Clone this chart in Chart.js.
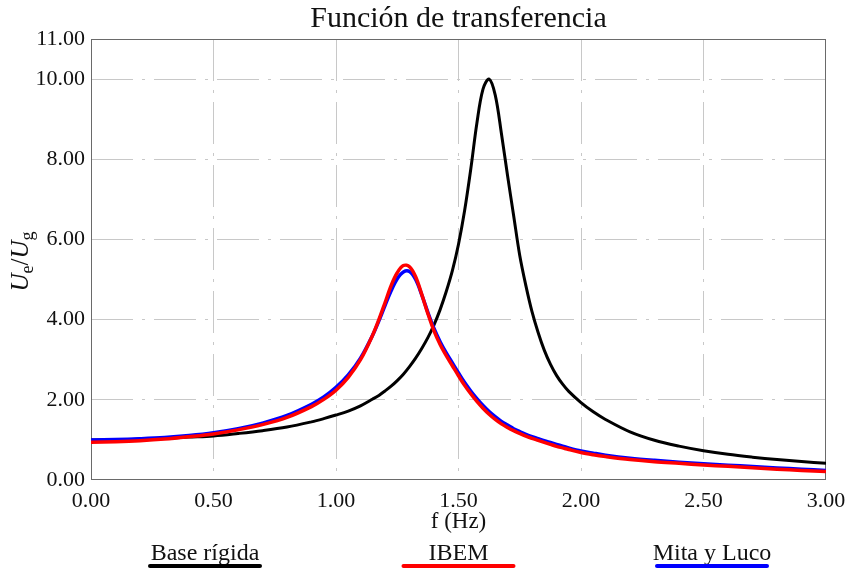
<!DOCTYPE html>
<html>
<head>
<meta charset="utf-8">
<script src="https://cdn.jsdelivr.net/npm/chart.js@4.4.1/dist/chart.umd.min.js"></script>
<style>
  html, body { margin: 0; padding: 0; background: #fff; }
  #chart { display: block; }
</style>
</head>
<body>
<canvas id="chart" width="847" height="572"></canvas>
<script>
// values
const freqs = [0, 0.1, 0.2, 0.3, 0.4, 0.5, 0.6, 0.7, 0.8, 0.9, 0.95, 1.0, 1.05, 1.1, 1.15, 1.175, 1.2, 1.225, 1.25, 1.275,
  1.3, 1.325, 1.35, 1.375, 1.4, 1.425, 1.45, 1.475, 1.5, 1.525, 1.55, 1.575, 1.6, 1.625, 1.65, 1.675, 1.7, 1.725,
  1.75, 1.775, 1.8, 1.825, 1.85, 1.875, 1.9, 1.925, 1.95, 2.0, 2.05, 2.1, 2.2, 2.3, 2.4, 2.5, 2.6, 2.7, 2.8, 2.9, 3.0];

const baseRigida = [1.00, 1.00, 1.02, 1.04, 1.07, 1.10, 1.16, 1.23, 1.32, 1.45, 1.53, 1.62, 1.72, 1.85, 2.02, 2.11, 2.22, 2.34, 2.48, 2.64,
  2.83, 3.04, 3.28, 3.55, 3.87, 4.25, 4.70, 5.22, 5.88, 6.72, 7.75, 8.90, 9.75, 10.00, 9.60, 8.65, 7.60, 6.60,
  5.60, 4.85, 4.20, 3.68, 3.24, 2.89, 2.61, 2.39, 2.21, 1.93, 1.70, 1.51, 1.20, 0.99, 0.845, 0.73, 0.64, 0.57, 0.51, 0.46, 0.42];

const ibem = [0.94, 0.955, 0.98, 1.02, 1.08, 1.15, 1.25, 1.38, 1.56, 1.83, 2.01, 2.24, 2.56, 3.00, 3.62, 4.00, 4.42, 4.85, 5.17, 5.35,
  5.32, 5.07, 4.63, 4.15, 3.72, 3.38, 3.10, 2.85, 2.60, 2.36, 2.15, 1.96, 1.79, 1.64, 1.51, 1.40, 1.31, 1.23,
  1.16, 1.095, 1.04, 0.99, 0.94, 0.89, 0.84, 0.80, 0.76, 0.685, 0.63, 0.585, 0.51, 0.455, 0.415, 0.375, 0.34, 0.305, 0.27, 0.24, 0.21];

const mitaLuco = [1.00, 1.01, 1.03, 1.06, 1.11, 1.18, 1.28, 1.42, 1.61, 1.89, 2.07, 2.31, 2.62, 3.04, 3.62, 3.97, 4.35, 4.72, 5.02, 5.19,
  5.20, 5.00, 4.62, 4.18, 3.78, 3.45, 3.17, 2.92, 2.67, 2.43, 2.22, 2.03, 1.86, 1.71, 1.58, 1.46, 1.37, 1.28,
  1.21, 1.14, 1.08, 1.03, 0.98, 0.935, 0.89, 0.845, 0.80, 0.725, 0.67, 0.62, 0.545, 0.49, 0.445, 0.405, 0.37, 0.335, 0.30, 0.27, 0.24];

const xTicks = [0, 0.5, 1, 1.5, 2, 2.5, 3];
const yTicks = [0, 2, 4, 6, 8, 10, 11];

const seriesNames = ['Base rígida', 'IBEM', 'Mita y Luco'];
const seriesColors = ['#000000', '#ff0000', '#0000ff'];

const FONT = '"Liberation Serif", "Times New Roman", serif';
const GRID = '#c8c8c8';

function toPoints(ys) {
  return freqs.map((f, i) => ({ x: f, y: ys[i] }));
}

// frame, title, axis titles and legend drawn by hand
const decor = {
  id: 'decor',
  beforeDatasetsDraw(chart) {
    const { ctx, chartArea: a } = chart;
    ctx.save();
    ctx.strokeStyle = '#6a6a6a';
    ctx.lineWidth = 1;
    ctx.strokeRect(a.left + 0.5, a.top + 0.5, a.right - a.left - 1, a.bottom - a.top - 1);
    ctx.restore();
  },
  afterDraw(chart) {
    const { ctx, chartArea: a } = chart;
    const mid = (a.left + a.right) / 2;
    ctx.save();
    ctx.fillStyle = '#111';
    ctx.textAlign = 'center';
    ctx.textBaseline = 'alphabetic';

    ctx.font = '30px ' + FONT;
    ctx.fillText('Función de transferencia', mid, 27);

    ctx.font = '23px ' + FONT;
    ctx.fillText('f (Hz)', mid, 528);

    // y label U_e / U_g
    ctx.save();
    ctx.translate(28, (a.top + a.bottom) / 2 + 2);
    ctx.rotate(-Math.PI / 2);
    ctx.textAlign = 'left';
    const parts = [
      { t: 'U', f: 'italic 25px ' + FONT, dy: 0 },
      { t: 'e', f: '18px ' + FONT, dy: 5 },
      { t: '/', f: '25px ' + FONT, dy: 0 },
      { t: 'U', f: 'italic 25px ' + FONT, dy: 0 },
      { t: 'g', f: '18px ' + FONT, dy: 5 }
    ];
    let total = 0;
    parts.forEach(p => { ctx.font = p.f; p.w = ctx.measureText(p.t).width; total += p.w; });
    let x = -total / 2;
    parts.forEach(p => { ctx.font = p.f; ctx.fillText(p.t, x, p.dy); x += p.w; });
    ctx.restore();

    // legend below the axis
    const step = 253.5;
    ctx.font = '24px ' + FONT;
    chart.data.datasets.forEach((ds, i) => {
      const cx = mid + (i - 1) * step;
      ctx.fillStyle = '#111';
      ctx.fillText(ds.label, cx, 560);
      ctx.strokeStyle = ds.borderColor;
      ctx.lineWidth = 4;
      ctx.lineCap = 'round';
      ctx.beginPath();
      ctx.moveTo(cx - 55, 566);
      ctx.lineTo(cx + 55, 566);
      ctx.stroke();
    });
    ctx.restore();
  }
};

const lineWidths = [3, 3.5, 3.5];
const drawOrder = [2, 0, 1];
const seriesData = [baseRigida, ibem, mitaLuco];

new Chart(document.getElementById('chart'), {
  type: 'line',
  data: {
    datasets: seriesData.map((ys, i) => ({
      label: seriesNames[i],
      data: toPoints(ys),
      borderColor: seriesColors[i],
      borderWidth: lineWidths[i],
      order: drawOrder[i],
      pointRadius: 0,
      fill: false,
      tension: 0.35
    }))
  },
  options: {
    responsive: false,
    animation: false,
    layout: { padding: { top: 39, right: 21, left: 0, bottom: 0 } },
    plugins: {
      legend: { display: false },
      title: { display: false },
      tooltip: { enabled: false }
    },
    scales: {
      x: {
        type: 'linear',
        min: 0,
        max: 3,
        afterBuildTicks: s => { s.ticks = xTicks.map(v => ({ value: v })); },
        afterFit: s => { s.height = 92; s.paddingLeft = 0; s.paddingRight = 0; },
        ticks: {
          font: { family: FONT, size: 22 },
          color: '#111',
          padding: 8,
          maxRotation: 0,
          autoSkip: false,
          callback: v => Number(v).toFixed(2)
        },
        grid: {
          drawTicks: false,
          lineWidth: 1,
          color: c => (c.tick && (c.tick.value === 0 || c.tick.value === 3)) ? 'rgba(0,0,0,0)' : GRID
        },
        border: { display: false, dash: [42, 9, 3, 9] }
      },
      y: {
        type: 'linear',
        min: 0,
        max: 11,
        afterBuildTicks: s => { s.ticks = yTicks.map(v => ({ value: v })); },
        afterFit: s => { s.width = 91; s.paddingTop = 0; s.paddingBottom = 0; },
        ticks: {
          font: { family: FONT, size: 22 },
          color: '#111',
          padding: 6,
          autoSkip: false,
          callback: v => Number(v).toFixed(2)
        },
        grid: {
          drawTicks: false,
          lineWidth: 1,
          color: c => (c.tick && (c.tick.value === 0 || c.tick.value === 11)) ? 'rgba(0,0,0,0)' : GRID
        },
        border: { display: false, dash: [42, 9, 3, 9] }
      }
    }
  },
  plugins: [decor]
});
</script>
</body>
</html>
